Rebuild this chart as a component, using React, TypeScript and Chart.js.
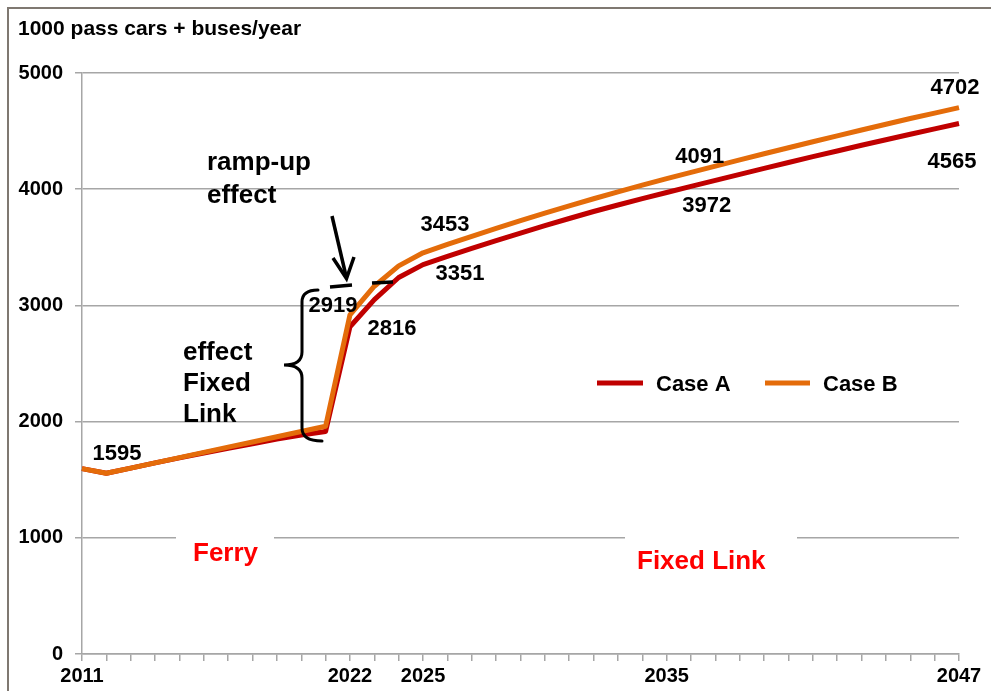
import React, { useEffect, useRef } from "react";
import { Chart, registerables } from "chart.js";

Chart.register(...registerables);

const years = [
  "2011", "2012", "2013", "2014", "2015", "2016", "2017", "2018", "2019", "2020",
  "2021", "2022", "2023", "2024", "2025", "2026", "2027", "2028", "2029", "2030",
  "2031", "2032", "2033", "2034", "2035", "2036", "2037", "2038", "2039", "2040",
  "2041", "2042", "2043", "2044", "2045", "2046", "2047",
];

const caseA = [
  1595, 1556, 1600, 1645, 1688, 1730, 1770, 1810, 1850, 1885,
  1915, 2816, 3050, 3240, 3351, 3421, 3490, 3557, 3622, 3686,
  3748, 3808, 3864, 3919, 3972, 4024, 4076, 4128, 4179, 4230,
  4280, 4329, 4378, 4426, 4473, 4519, 4565,
];

const caseB = [
  1595, 1556, 1600, 1645, 1690, 1735, 1780, 1825, 1870, 1915,
  1960, 2919, 3165, 3340, 3453, 3525, 3595, 3663, 3730, 3795,
  3857, 3918, 3977, 4035, 4091, 4145, 4199, 4252, 4305, 4357,
  4408, 4459, 4509, 4559, 4608, 4655, 4702,
];

const seriesNames = ["Case A", "Case B"];
const seriesColors = ["#c00000", "#e46c0a"];
const shownYearLabels = ["2011", "2022", "2025", "2035", "2047"];
const yMin = 0;
const yMax = 5000;
const yStep = 1000;
const axisTitle = "1000 pass cars + buses/year";
const periodLabels = ["Ferry", "Fixed Link"];
const rampUpText = ["ramp-up", "effect"];
const fixedLinkText = ["effect", "Fixed", "Link"];

// which points get a value label, with a pixel offset from the point
const labeledPoints = [
  { series: 0, year: "2011", dx: 35, dy: -17 },
  { series: 1, year: "2022", dx: -17, dy: -11 },
  { series: 0, year: "2022", dx: 42, dy: 0 },
  { series: 1, year: "2025", dx: 22, dy: -30 },
  { series: 0, year: "2025", dx: 37, dy: 7 },
  { series: 1, year: "2035", dx: 33, dy: -24 },
  { series: 0, year: "2035", dx: 40, dy: 12 },
  { series: 1, year: "2047", dx: -4, dy: -22 },
  { series: 0, year: "2047", dx: -7, dy: 36 },
];

const FONT = '"Liberation Sans", Arial, sans-serif';
const GRID = "#a6a6a6";

export default function App() {
  const ref = useRef<HTMLCanvasElement | null>(null);

  useEffect(() => {
    const canvas = ref.current;
    if (!canvas) return;
    const seriesData = [caseA, caseB];

    const overlay = {
      id: "overlay",
      afterDraw(chart: any) {
        const ctx = chart.ctx as CanvasRenderingContext2D;
        const ca = chart.chartArea;
        const xs = chart.scales.x;
        const ys = chart.scales.y;
        // map reference-layout pixels to actual chart-area pixels
        const P = (x: number, y: number): [number, number] => [
          ca.left + ((x - 82) / (959 - 82)) * (ca.right - ca.left),
          ca.top + ((y - 73) / (654 - 73)) * (ca.bottom - ca.top),
        ];
        const text = (s: string, x: number, y: number, size: number, color: string, align: CanvasTextAlign) => {
          ctx.font = `bold ${size}px ${FONT}`;
          ctx.fillStyle = color;
          ctx.textAlign = align;
          ctx.textBaseline = "alphabetic";
          ctx.fillText(s, x, y);
        };
        ctx.save();

        // outer frame (top and left)
        ctx.strokeStyle = "#7f7871";
        ctx.lineWidth = 2;
        ctx.beginPath();
        ctx.moveTo(8, chart.height);
        ctx.lineTo(8, 8);
        ctx.lineTo(chart.width, 8);
        ctx.stroke();

        // axis title
        text(axisTitle, 18, 35, 21, "#000", "left");

        // period labels with white gap in gridline
        ctx.fillStyle = "#fff";
        let [gx1, gy1] = P(176, 530);
        let [gx2, gy2] = P(274, 545);
        ctx.fillRect(gx1, gy1, gx2 - gx1, gy2 - gy1);
        [gx1, gy1] = P(625, 530);
        [gx2, gy2] = P(797, 545);
        ctx.fillRect(gx1, gy1, gx2 - gx1, gy2 - gy1);
        let [tx, ty] = P(193, 561);
        text(periodLabels[0], tx, ty, 26, "#ff0000", "left");
        [tx, ty] = P(637, 569);
        text(periodLabels[1], tx, ty, 26, "#ff0000", "left");

        // annotation texts
        rampUpText.forEach((s, i) => {
          const [x, y] = P(207, 170 + i * 33);
          text(s, x, y, 26, "#000", "left");
        });
        fixedLinkText.forEach((s, i) => {
          const [x, y] = P(183, 360 + i * 31);
          text(s, x, y, 26, "#000", "left");
        });

        // arrow
        ctx.strokeStyle = "#000";
        ctx.lineCap = "butt";
        ctx.lineJoin = "miter";
        ctx.lineWidth = 3.5;
        ctx.beginPath();
        let a = P(332, 216);
        let b = P(346, 276);
        ctx.moveTo(a[0], a[1]);
        ctx.lineTo(b[0], b[1]);
        ctx.stroke();
        ctx.beginPath();
        a = P(333, 258);
        b = P(346.5, 278.5);
        const c = P(354, 257);
        ctx.moveTo(a[0], a[1]);
        ctx.lineTo(b[0], b[1]);
        ctx.lineTo(c[0], c[1]);
        ctx.stroke();

        // dashes (ramp-up level)
        ctx.lineWidth = 3.5;
        const dashes = [
          [330, 287, 352, 285],
          [372, 283, 393, 282],
        ];
        dashes.forEach((d) => {
          const p1 = P(d[0], d[1]);
          const p2 = P(d[2], d[3]);
          ctx.beginPath();
          ctx.moveTo(p1[0], p1[1]);
          ctx.lineTo(p2[0], p2[1]);
          ctx.stroke();
        });

        // curly brace
        ctx.lineWidth = 3;
        ctx.lineCap = "round";
        ctx.beginPath();
        let q = P(318, 290);
        ctx.moveTo(q[0], q[1]);
        let q1 = P(302, 290);
        let q2 = P(302, 302);
        ctx.quadraticCurveTo(q1[0], q1[1], q2[0], q2[1]);
        q = P(302, 352);
        ctx.lineTo(q[0], q[1]);
        q1 = P(302, 365);
        q2 = P(284, 365);
        ctx.quadraticCurveTo(q1[0], q1[1], q2[0], q2[1]);
        q1 = P(302, 365);
        q2 = P(302, 378);
        ctx.quadraticCurveTo(q1[0], q1[1], q2[0], q2[1]);
        q = P(302, 428);
        ctx.lineTo(q[0], q[1]);
        q1 = P(302, 441);
        q2 = P(322, 441);
        ctx.quadraticCurveTo(q1[0], q1[1], q2[0], q2[1]);
        ctx.stroke();

        // data labels
        labeledPoints.forEach((lp) => {
          const idx = years.indexOf(lp.year);
          const v = seriesData[lp.series][idx];
          const x = xs.getPixelForValue(idx) + lp.dx;
          const y = ys.getPixelForValue(v) + lp.dy;
          text(String(v), x, y + 8, 22, "#000", "center");
        });

        // legend
        const legendPos = [
          [597, 643, 656],
          [765, 810, 823],
        ];
        seriesNames.forEach((name, i) => {
          const [l1, l2, lt] = legendPos[i];
          const p1 = P(l1, 383);
          const p2 = P(l2, 383);
          ctx.strokeStyle = seriesColors[i];
          ctx.lineWidth = 5;
          ctx.lineCap = "butt";
          ctx.beginPath();
          ctx.moveTo(p1[0], p1[1]);
          ctx.lineTo(p2[0], p2[1]);
          ctx.stroke();
          const pt = P(lt, 391);
          text(name, pt[0], pt[1], 22, "#000", "left");
        });

        ctx.restore();
      },
    };

    const chart = new Chart(canvas, {
      type: "line",
      data: {
        labels: years,
        datasets: [
          {
            label: seriesNames[0],
            data: caseA,
            borderColor: seriesColors[0],
            backgroundColor: seriesColors[0],
            borderWidth: 5,
            pointRadius: 0,
            tension: 0,
            borderJoinStyle: "round",
            order: 1,
          },
          {
            label: seriesNames[1],
            data: caseB,
            borderColor: seriesColors[1],
            backgroundColor: seriesColors[1],
            borderWidth: 5,
            pointRadius: 0,
            tension: 0,
            borderJoinStyle: "round",
            order: 0,
          },
        ],
      },
      options: {
        responsive: false,
        animation: false,
        devicePixelRatio: 1,
        layout: { padding: { left: 0, top: 73, right: 32, bottom: 0 } },
        plugins: {
          legend: { display: false },
          tooltip: { enabled: false },
          title: { display: false },
        },
        scales: {
          x: {
            type: "category",
            offset: false,
            grid: {
              display: true,
              drawOnChartArea: false,
              drawTicks: true,
              tickLength: 7,
              color: GRID,
              lineWidth: 1.5,
            },
            border: { display: true, color: GRID, width: 1.5 },
            ticks: {
              autoSkip: false,
              maxRotation: 0,
              minRotation: 0,
              padding: 3,
              color: "#000",
              font: { family: FONT, size: 20, weight: "bold" },
              callback: (_v: any, index: number) =>
                shownYearLabels.includes(years[index]) ? years[index] : "",
            },
            afterFit: (scale: any) => {
              scale.height = 37;
            },
          },
          y: {
            min: yMin,
            max: yMax,
            grid: {
              color: GRID,
              lineWidth: 1.5,
              drawTicks: true,
              tickLength: 7,
            },
            border: { display: true, color: GRID, width: 1.5 },
            ticks: {
              stepSize: yStep,
              padding: 12,
              color: "#000",
              font: { family: FONT, size: 20, weight: "bold" },
              callback: (v: any) => String(v),
            },
            afterFit: (scale: any) => {
              scale.width = 82;
            },
          },
        },
      },
      plugins: [overlay],
    } as any);

    return () => chart.destroy();
  }, []);

  return (
    <div style={{ position: "fixed", left: 0, top: 0, width: 991, height: 691, background: "#fff" }}>
      <canvas ref={ref} width={991} height={691} style={{ width: 991, height: 691, display: "block" }} />
    </div>
  );
}
